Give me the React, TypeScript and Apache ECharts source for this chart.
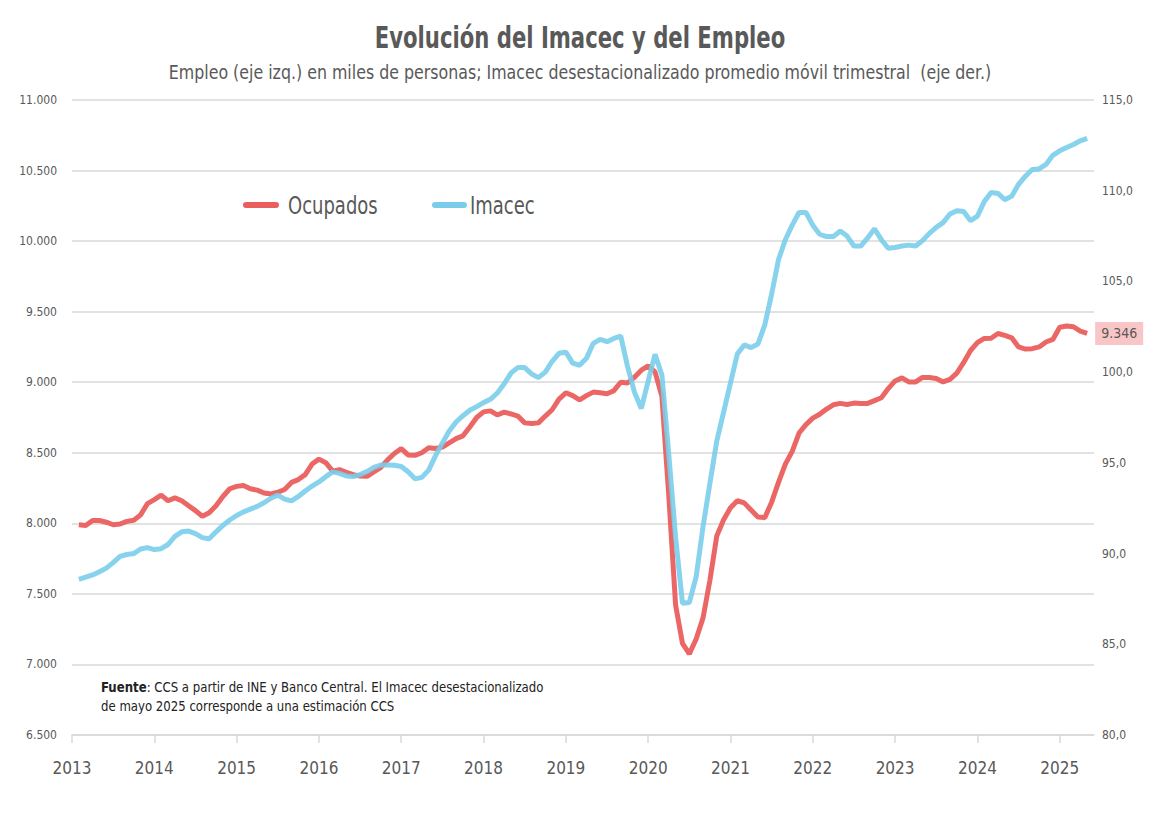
import React, { useEffect, useRef } from 'react';
import * as echarts from 'echarts';

// Monthly categories: Jan 2013 .. Jun 2025
const months: string[] = [];
for (let y = 2013; y <= 2025; y++) {
  for (let m = 1; m <= 12; m++) {
    if (y === 2025 && m > 6) break;
    months.push(`${y}-${String(m).padStart(2, '0')}`);
  }
}

// Ocupados (thousands of people), Feb 2013 .. May 2025 (left axis)
const ocupados: (number | null)[] = [
  null,
  7990, 7985, 8020, 8020, 8008, 7990, 7995, 8014, 8022, 8060, 8140,
  8168, 8200, 8160, 8180, 8160, 8125, 8090, 8050, 8075, 8125, 8190, 8245,
  8262, 8268, 8245, 8235, 8215, 8208, 8220, 8240, 8290, 8310, 8345, 8420,
  8455, 8430, 8370, 8380, 8362, 8345, 8335, 8333, 8365, 8395, 8450, 8495,
  8530, 8485, 8482, 8500, 8535, 8530, 8540, 8570, 8600, 8620, 8683, 8750,
  8790, 8797, 8768, 8788, 8775, 8760, 8712, 8707, 8712, 8760, 8805, 8880,
  8925, 8905, 8875, 8905, 8930, 8925, 8918, 8940, 9000, 8995, 9035, 9085,
  9115, 9073, 8900, 8200, 7420, 7150, 7075, 7180, 7330, 7596, 7910, 8025,
  8110, 8160, 8145, 8095, 8045, 8040, 8150, 8290, 8420, 8510, 8640, 8700,
  8745, 8773, 8810, 8840, 8850, 8842, 8852, 8850, 8850, 8870, 8890, 8955,
  9009, 9031, 9002, 9002, 9034, 9034, 9027, 9002, 9020, 9065, 9140, 9225,
  9280, 9310, 9312, 9345, 9332, 9315, 9250, 9235, 9238, 9250, 9285, 9303,
  9390, 9398, 9393, 9362, 9346,
];

// Imacec desestacionalizado, promedio móvil trimestral (right axis)
const imacec: (number | null)[] = [
  null,
  88.58, 88.7, 88.82, 89.0, 89.2, 89.5, 89.85, 89.95, 90.0, 90.25, 90.33,
  90.22, 90.27, 90.5, 90.95, 91.2, 91.24, 91.1, 90.88, 90.82, 91.2, 91.55, 91.85,
  92.1, 92.3, 92.45, 92.6, 92.8, 93.05, 93.22, 93.0, 92.9, 93.15, 93.45, 93.72,
  93.95, 94.24, 94.5, 94.42, 94.28, 94.25, 94.35, 94.52, 94.75, 94.88, 94.88, 94.87,
  94.8, 94.51, 94.12, 94.2, 94.6, 95.4, 96.1, 96.75, 97.25, 97.6, 97.9, 98.1,
  98.32, 98.5, 98.85, 99.35, 99.95, 100.25, 100.25, 99.9, 99.7, 100.0, 100.6, 101.04,
  101.1, 100.5, 100.38, 100.76, 101.59, 101.81, 101.68, 101.86, 101.99, 100.3, 98.9, 98.0,
  99.5, 100.98, 99.84, 95.5, 90.9, 87.26, 87.3, 88.73, 91.48, 93.87, 96.2, 97.8,
  99.4, 101.0, 101.5, 101.35, 101.55, 102.6, 104.3, 106.2, 107.3, 108.1, 108.8, 108.8,
  108.1, 107.6, 107.47, 107.47, 107.78, 107.5, 106.95, 106.95, 107.4, 107.9, 107.3, 106.83,
  106.87, 106.95, 107.0, 106.95, 107.25, 107.65, 107.98, 108.24, 108.72, 108.9, 108.85, 108.35,
  108.6, 109.4, 109.9, 109.85, 109.5, 109.7, 110.35, 110.8, 111.17, 111.2, 111.45, 111.95,
  112.2, 112.38, 112.55, 112.75, 112.89,
];

const seriesNames = ['Ocupados', 'Imacec'];

const FONT = "'DejaVu Sans Condensed', 'Liberation Sans Narrow', Roboto, sans-serif";
const GREY = '#595959';
const RED = '#EA5F5E';
const BLUE = '#7ACDEA';

const thousands = (v: number) => String(Math.round(v)).replace(/\B(?=(\d{3})+(?!\d))/g, '.');

export default function App() {
  const ref = useRef<HTMLDivElement>(null);

  useEffect(() => {
    if (!ref.current) return;
    const chart = echarts.init(ref.current, undefined, { renderer: 'svg' });
    const yearTick = (idx: number) => idx % 12 === 0;
    chart.setOption({
      animation: false,
      backgroundColor: '#ffffff',
      textStyle: { fontFamily: FONT },
      grid: { left: 72, right: 66, top: 100, bottom: 81, containLabel: false },
      xAxis: {
        type: 'category',
        data: months,
        boundaryGap: false,
        axisLine: { lineStyle: { color: '#d9d9d9', width: 1.5 } },
        axisTick: { interval: yearTick, length: 8, lineStyle: { color: '#d9d9d9', width: 1.5 } },
        axisLabel: {
          interval: yearTick,
          formatter: (v: string) => v.slice(0, 4),
          fontSize: 17,
          color: GREY,
          margin: 24,
          fontFamily: FONT,
        },
        splitLine: { show: false },
      },
      yAxis: [
        {
          type: 'value',
          min: 6500,
          max: 11000,
          interval: 500,
          position: 'left',
          axisLine: { show: false },
          axisTick: { show: false },
          axisLabel: { formatter: thousands, fontSize: 12, color: GREY, margin: 15, fontFamily: FONT },
          splitLine: { lineStyle: { color: '#d9d9d9', width: 1.5 } },
        },
        {
          type: 'value',
          min: 80,
          max: 115,
          interval: 5,
          position: 'right',
          axisLine: { show: false },
          axisTick: { show: false },
          axisLabel: {
            formatter: (v: number) => v.toFixed(1).replace('.', ','),
            fontSize: 12,
            color: GREY,
            margin: 8,
            fontFamily: FONT,
          },
          splitLine: { show: false },
        },
      ],
      series: [
        {
          name: seriesNames[0],
          type: 'line',
          yAxisIndex: 0,
          data: ocupados,
          showSymbol: false,
          symbol: 'none',
          lineStyle: { color: RED, width: 5, opacity: 0.95 },
          itemStyle: { color: RED },
          z: 3,
          endLabel: {
            show: true,
            formatter: (p: any) => thousands(p.value),
            backgroundColor: '#F8C6C6',
            color: GREY,
            fontSize: 14,
            padding: [5, 6, 4, 6],
            distance: 8,
            fontFamily: FONT,
          },
        },
        {
          name: seriesNames[1],
          type: 'line',
          yAxisIndex: 1,
          data: imacec,
          showSymbol: false,
          symbol: 'none',
          lineStyle: { color: BLUE, width: 5, opacity: 0.9 },
          itemStyle: { color: BLUE },
          z: 4,
        },
      ],
      graphic: [
        {
          type: 'text',
          x: 580,
          y: 37,
          scaleX: 0.76,
          style: {
            text: 'Evolución del Imacec y del Empleo',
            font: `bold 31px ${FONT}`,
            fill: GREY,
            align: 'center',
            verticalAlign: 'middle',
          },
        },
        {
          type: 'text',
          x: 580,
          y: 72,
          scaleX: 0.88,
          style: {
            text: 'Empleo (eje izq.) en miles de personas; Imacec desestacionalizado promedio móvil trimestral  (eje der.)',
            font: `20px ${FONT}`,
            fill: GREY,
            align: 'center',
            verticalAlign: 'middle',
          },
        },
        // legend
        {
          type: 'line',
          shape: { x1: 246, y1: 205, x2: 276, y2: 205 },
          style: { stroke: RED, lineWidth: 6, lineCap: 'round' },
        },
        {
          type: 'text',
          x: 288,
          y: 205,
          scaleX: 0.8,
          style: { text: seriesNames[0], font: `25px ${FONT}`, fill: GREY, align: 'left', verticalAlign: 'middle' },
        },
        {
          type: 'line',
          shape: { x1: 435, y1: 205, x2: 464, y2: 205 },
          style: { stroke: BLUE, lineWidth: 6, lineCap: 'round' },
        },
        {
          type: 'text',
          x: 470,
          y: 205,
          scaleX: 0.8,
          style: { text: seriesNames[1], font: `25px ${FONT}`, fill: GREY, align: 'left', verticalAlign: 'middle' },
        },
        // source note
        {
          type: 'text',
          x: 101,
          y: 677,
          scaleX: 0.9,
          style: {
            text: '{b|Fuente}: CCS a partir de INE y Banco Central. El Imacec desestacionalizado\nde mayo 2025 corresponde a una estimación CCS',
            font: `14.5px ${FONT}`,
            fill: '#222222',
            lineHeight: 19,
            verticalAlign: 'top',
            rich: {
              b: { fontWeight: 'bold', fontSize: 14.5, fill: '#222222', fontFamily: FONT },
            },
          },
        },
      ],
    });
    return () => chart.dispose();
  }, []);

  return (
    <div
      ref={ref}
      style={{ position: 'fixed', left: 0, top: 0, width: 1160, height: 816, background: '#fff' }}
    />
  );
}
